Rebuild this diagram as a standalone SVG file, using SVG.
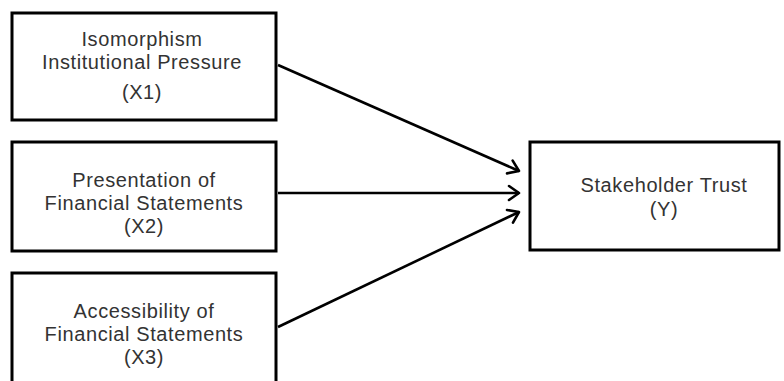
<svg xmlns="http://www.w3.org/2000/svg" width="784" height="381" viewBox="0 0 784 381">
<style>
.box{fill:#fff;stroke:#000;stroke-width:3}
.t{font-family:"Liberation Sans",Arial,sans-serif;font-size:20px;letter-spacing:0.6px;fill:#333;text-anchor:middle}
.c{fill:none;stroke:#000;stroke-width:2.6}
</style>
<defs>
<marker id="arr" markerUnits="userSpaceOnUse" markerWidth="20" markerHeight="20" viewBox="0 0 20 20" refX="16" refY="10" orient="auto">
<path d="M6,3 L16,10 L6,17" fill="none" stroke="#000" stroke-width="2.6" stroke-linecap="round" stroke-linejoin="round"/>
</marker>
</defs>
<rect width="784" height="381" fill="#fff"/>
<g id="connectors">
<line class="c" x1="278" y1="65" x2="519" y2="171" marker-end="url(#arr)"/>
<line class="c" x1="278" y1="193" x2="519" y2="193" marker-end="url(#arr)"/>
<line class="c" x1="278" y1="327" x2="519" y2="212" marker-end="url(#arr)"/>
</g>
<g id="x1">
<rect class="box" x="12" y="13" width="264" height="107"/>
<text class="t" x="142" y="46">Isomorphism</text>
<text class="t" x="142" y="69">Institutional Pressure</text>
<text class="t" x="142" y="99">(X1)</text>
</g>
<g id="x2">
<rect class="box" x="12" y="142" width="264" height="109"/>
<text class="t" x="144" y="187">Presentation of</text>
<text class="t" x="144" y="210">Financial Statements</text>
<text class="t" x="144" y="233">(X2)</text>
</g>
<g id="x3">
<rect class="box" x="12" y="273" width="264" height="130"/>
<text class="t" x="144" y="318">Accessibility of</text>
<text class="t" x="144" y="341">Financial Statements</text>
<text class="t" x="144" y="364">(X3)</text>
</g>
<g id="y">
<rect class="box" x="530" y="142" width="249" height="108"/>
<text class="t" x="664" y="192">Stakeholder Trust</text>
<text class="t" x="664" y="216">(Y)</text>
</g>
</svg>
